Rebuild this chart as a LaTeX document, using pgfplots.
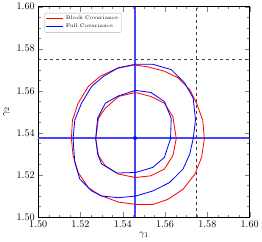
\documentclass[border=0pt]{standalone}
\usepackage{pgfplots}
\pgfplotsset{compat=1.18}
\definecolor{lineblue}{RGB}{70,70,255}
\begin{document}
\begin{tikzpicture}[x=1pt,y=1pt]
\begin{axis}[
  scale only axis,
  width=209pt, height=208pt,
  xmin=1.50, xmax=1.60, ymin=1.50, ymax=1.60,
  xtick={1.50,1.52,...,1.601}, ytick={1.50,1.52,...,1.601},
  minor x tick num=3, minor y tick num=3,
  tick align=inside, tick pos=both,
  xticklabel style={/pgf/number format/.cd,fixed,fixed zerofill,precision=2},
  yticklabel style={/pgf/number format/.cd,fixed,fixed zerofill,precision=2},
  scaled ticks=false,
  xlabel={$\gamma_1$}, ylabel={$\gamma_2$},
  tick label style={font=\normalsize},
  label style={font=\normalsize},
  xlabel style={yshift=2pt},
  major tick length=5pt, minor tick length=2.5pt,
  axis line style={line width=0.9pt},
  legend pos=north west,
  legend style={font=\tiny, draw=black!30, rounded corners=1pt, inner sep=1pt, row sep=-1pt},
  legend cell align=left,
  every axis plot/.append style={line width=0.8pt},
  clip=true,
]
\addplot[lineblue, line width=1.3pt, forget plot] coordinates {(1.5458,1.50)(1.5458,1.60)};
\addplot[lineblue, line width=1.3pt, forget plot] coordinates {(1.50,1.5376)(1.60,1.5376)};
\addplot[red, sharp plot] coordinates {
(1.5157,1.5373)(1.5162,1.5461)(1.5189,1.5541)(1.5237,1.5621)(1.5293,1.5669)(1.5372,1.5706)(1.5444,1.5721)(1.5460,1.5722)(1.5518,1.5714)(1.5597,1.5693)(1.5661,1.5662)(1.5717,1.5605)(1.5749,1.5541)(1.5778,1.5461)(1.5786,1.5373)(1.5773,1.5284)(1.5741,1.5204)(1.5685,1.5132)(1.5613,1.5084)(1.5542,1.5060)(1.5462,1.5060)(1.5380,1.5071)(1.5293,1.5103)(1.5237,1.5140)(1.5189,1.5212)(1.5165,1.5292)(1.5157,1.5373)};
\addlegendentry{Block Covariance}
\addplot[blue, sharp plot] coordinates {
(1.5165,1.5373)(1.5173,1.5461)(1.5205,1.5541)(1.5253,1.5621)(1.5309,1.5669)(1.5380,1.5710)(1.5460,1.5726)(1.5542,1.5726)(1.5629,1.5701)(1.5693,1.5637)(1.5733,1.5565)(1.5744,1.5461)(1.5733,1.5373)(1.5717,1.5300)(1.5685,1.5228)(1.5621,1.5164)(1.5542,1.5124)(1.5462,1.5100)(1.5380,1.5092)(1.5300,1.5100)(1.5253,1.5124)(1.5197,1.5180)(1.5173,1.5260)(1.5165,1.5373)};
\addlegendentry{Full Covariance}
\addplot[red, forget plot] coordinates {
(1.5272,1.5373)(1.5285,1.5469)(1.5317,1.5517)(1.5380,1.5573)(1.5460,1.5592)(1.5533,1.5573)(1.5597,1.5541)(1.5637,1.5477)(1.5653,1.5373)(1.5637,1.5292)(1.5597,1.5228)(1.5533,1.5196)(1.5460,1.5188)(1.5380,1.5204)(1.5317,1.5244)(1.5285,1.5292)(1.5272,1.5373)};
\addplot[blue, forget plot] coordinates {
(1.5272,1.5373)(1.5281,1.5469)(1.5317,1.5541)(1.5380,1.5576)(1.5460,1.5602)(1.5533,1.5592)(1.5597,1.5549)(1.5629,1.5469)(1.5626,1.5373)(1.5597,1.5284)(1.5542,1.5236)(1.5462,1.5212)(1.5372,1.5209)(1.5300,1.5252)(1.5281,1.5300)(1.5272,1.5373)};
\addplot[black!75, dashed, line width=0.8pt, forget plot] coordinates {(1.575,1.50)(1.575,1.60)};
\addplot[black!75, dashed, line width=0.8pt, forget plot] coordinates {(1.50,1.575)(1.60,1.575)};
\addplot[blue, only marks, mark=star, mark size=2pt, line width=1pt, forget plot] coordinates {(1.5458,1.5376)};
\end{axis}
\end{tikzpicture}
\end{document}
